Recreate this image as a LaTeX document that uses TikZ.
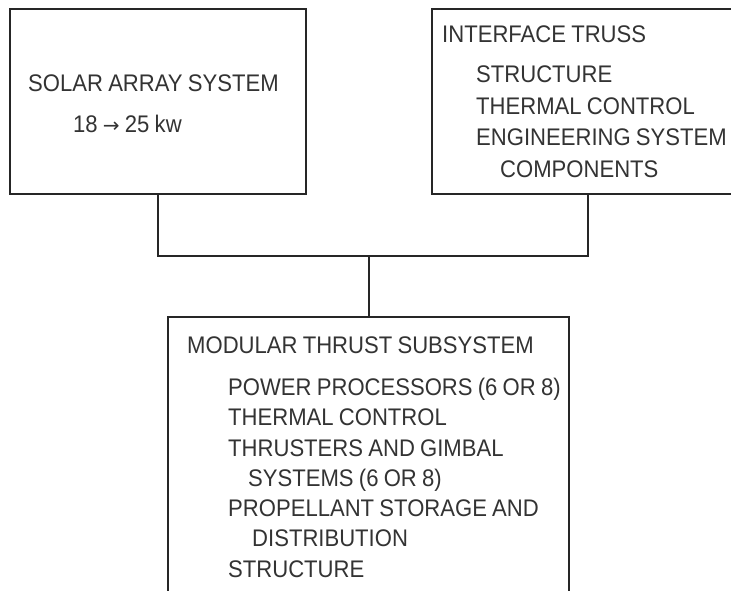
\documentclass[tikz,border=0pt]{standalone}
\usepackage{fontspec}
\newfontfamily\diafont{Liberation Sans}[FakeStretch=0.92,WordSpace=0.85]
\newfontfamily\arrowfont{DejaVu Sans}
\begin{document}
\begin{tikzpicture}[x=1pt,y=-1pt,
  boxline/.style={draw=black!85,line width=2pt},
  wire/.style={draw=black!85,line width=2pt},
  txt/.style={anchor=base west,inner sep=0pt,text=black!80,font=\diafont\fontsize{24}{28}\selectfont}]
\clip (0,0) rectangle (731,591);
\fill[white] (0,0) rectangle (731,591);
% boxes
\node[boxline,rectangle,inner sep=0pt,minimum width=296pt,minimum height=185pt] (solar) at (158,101.5) {};
\node[boxline,rectangle,inner sep=0pt,minimum width=312pt,minimum height=185pt] (iface) at (588,101.5) {};
\node[boxline,rectangle,inner sep=0pt,minimum width=401pt,minimum height=300pt] (thrust) at (368.5,467) {};
% connectors
\coordinate (bus) at (368.5,256);
\draw[wire] (solar.south) |- (bus) -| (iface.south);
\draw[wire] (bus) -- (thrust.north);
% solar text
\node[txt] (s1) at (28,92) {SOLAR ARRAY SYSTEM};
\node[txt] (s2) at (73,133) {18 {\arrowfont\fontsize{20}{24}\selectfont →} 25 kw};
% interface text
\node[txt] (i1) at (442,43) {INTERFACE TRUSS};
\node[txt] (i2) at (476,83) {STRUCTURE};
\node[txt] (i3) at (476,115) {THERMAL CONTROL};
\node[txt] (i4) at (476,146) {ENGINEERING SYSTEM};
\node[txt] (i5) at (500,177) {COMPONENTS};
% thrust text
\node[txt] (t1) at (187,353) {MODULAR THRUST SUBSYSTEM};
\node[txt] (t2) at (228,395) {POWER PROCESSORS (6 OR 8)};
\node[txt] (t3) at (228,425) {THERMAL CONTROL};
\node[txt] (t4) at (228,456) {THRUSTERS AND GIMBAL};
\node[txt] (t5) at (248,486) {SYSTEMS (6 OR 8)};
\node[txt] (t6) at (228,516) {PROPELLANT STORAGE AND};
\node[txt] (t7) at (252,546) {DISTRIBUTION};
\node[txt] (t8) at (228,577) {STRUCTURE};
\end{tikzpicture}
\end{document}
